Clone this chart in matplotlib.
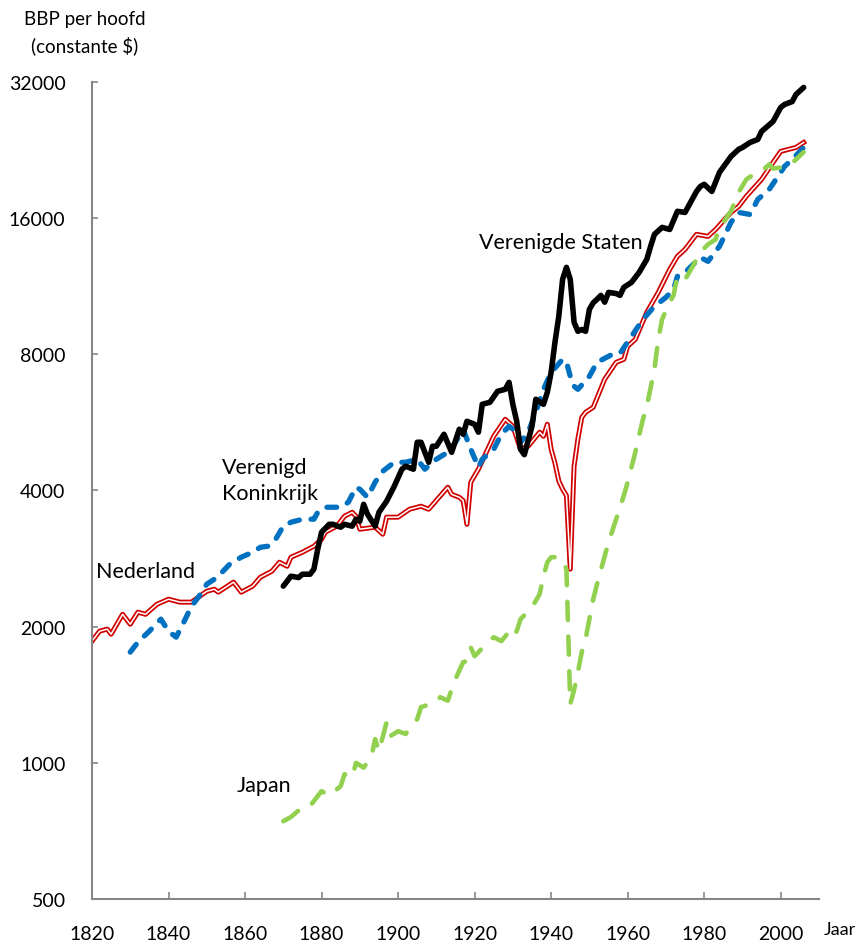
import matplotlib
matplotlib.use('Agg')
import matplotlib.pyplot as plt

plt.rcParams['font.family'] = ['Lato', 'DejaVu Sans']
plt.rcParams['lines.scale_dashes'] = False

# BBP per hoofd (constante $)
nl_jaar = [1820, 1822, 1824, 1825, 1828, 1830, 1832, 1834, 1837, 1840, 1843, 1846, 1850, 1852, 1853,
           1857, 1859, 1862, 1864, 1867, 1869, 1871, 1872, 1875, 1878, 1880, 1881, 1884, 1886, 1888,
           1889, 1890, 1894, 1896, 1897, 1900, 1903, 1906, 1908, 1913, 1914, 1916, 1917, 1918, 1919,
           1921, 1925, 1928, 1930, 1932, 1934, 1937, 1938, 1939, 1940, 1941, 1942, 1943, 1944, 1945,
           1946, 1947, 1948, 1949, 1951, 1954, 1957, 1959, 1960, 1962, 1965, 1968, 1971, 1973, 1975,
           1978, 1981, 1983, 1987, 1989, 1991, 1995, 1998, 2000, 2002, 2004, 2006]
nl_bbp = [1858, 1955, 1975, 1925, 2130, 2025, 2153, 2130, 2242, 2300, 2266, 2266, 2395, 2420, 2384,
          2509, 2384, 2458, 2572, 2652, 2776, 2720, 2848, 2922, 3012, 3121, 3235, 3336, 3509, 3580,
          3509, 3285, 3318, 3202, 3492, 3492, 3636, 3692, 3636, 4067, 3923, 3864, 3800, 3368, 4172,
          4458, 5272, 5748, 5547, 4935, 5011, 5382, 5272, 5603, 4935, 4600, 4200, 4026, 3900, 2680,
          4525, 5200, 5800, 5955, 6109, 7047, 7681, 7798, 8334, 8633, 9905, 10966, 12330, 13171, 13649,
          14734, 14580, 15105, 16474, 16985, 17875, 19485, 21245, 22470, 22705, 22930, 23520]

uk_jaar = [1830, 1832, 1835, 1838, 1840, 1842, 1844, 1846, 1848, 1850, 1852, 1854, 1856, 1859, 1862,
           1864, 1866, 1868, 1870, 1872, 1875, 1878, 1879, 1881, 1885, 1887, 1889, 1890, 1892, 1894,
           1896, 1899, 1902, 1905, 1907, 1910, 1913, 1915, 1917, 1919, 1921, 1922, 1925, 1927, 1929,
           1931, 1932, 1934, 1936, 1938, 1940, 1943, 1944, 1945, 1946, 1947, 1950, 1952, 1956, 1958,
           1961, 1964, 1967, 1970, 1972, 1973, 1975, 1979, 1981, 1984, 1987, 1989, 1992, 1994, 1997,
           2000, 2001, 2003, 2006]
uk_bbp = [1757, 1848, 1955, 2078, 1955, 1896, 2047, 2219, 2336, 2483, 2547, 2639, 2749, 2848, 2922,
          2996, 3012, 3121, 3336, 3403, 3456, 3456, 3580, 3673, 3673, 3768, 4067, 4026, 3864, 4172,
          4412, 4618, 4618, 4690, 4458, 4690, 4859, 5113, 5464, 4935, 4502, 4690, 4935, 5326, 5547,
          5382, 5113, 5382, 5955, 6695, 7300, 7798, 7700, 7154, 6800, 6695, 7154, 7681, 8000, 8040,
          8766, 9559, 10212, 10690, 11136, 11896, 12140, 13100, 12840, 13860, 15659, 16474, 16300, 17600, 18520,
          20200, 20820, 21570, 22930]

vs_jaar = [1870, 1871, 1872, 1874, 1875, 1877, 1878, 1879, 1880, 1882, 1883, 1885, 1886, 1888, 1889,
           1890, 1891, 1892, 1894, 1895, 1897, 1899, 1901, 1902, 1904, 1905, 1906, 1908, 1909, 1910,
           1912, 1914, 1916, 1917, 1918, 1920, 1921, 1922, 1924, 1926, 1928, 1929, 1930, 1931, 1932,
           1933, 1935, 1936, 1938, 1939, 1940, 1941, 1942, 1943, 1944, 1945, 1946, 1947, 1948, 1949,
           1950, 1951, 1952, 1953, 1954, 1955, 1957, 1958, 1959, 1961, 1963, 1965, 1966, 1967, 1969,
           1971, 1973, 1975, 1978, 1979, 1980, 1982, 1984, 1987, 1989, 1990, 1992, 1994, 1995, 1998,
           2000, 2001, 2003, 2004, 2006]
vs_bbp = [2458, 2521, 2586, 2568, 2612, 2612, 2680, 2967, 3235, 3368, 3368, 3318, 3368, 3336, 3456,
          3420, 3729, 3545, 3336, 3580, 3787, 4087, 4458, 4525, 4458, 5113, 5113, 4618, 5011, 5011,
          5326, 4859, 5464, 5326, 5690, 5603, 5382, 6204, 6267, 6627, 6695, 6936, 6200, 5690, 4935,
          4800, 5547, 6364, 6204, 6594, 7300, 8500, 9706, 11715, 12455, 11715, 9415, 8994, 9080, 8994,
          10058, 10400, 10584, 10800, 10430, 10966, 10900, 10800, 11250, 11538, 12140, 12970, 13860, 14734, 15265,
          15105, 16564, 16474, 18330, 18800, 19010, 18330, 20200, 21900, 22705, 22930, 23520, 23880, 24880, 26170,
          28100, 28540, 28960, 30030, 31120]

jp_jaar = [1870, 1872, 1875, 1877, 1880, 1882, 1885, 1886, 1888, 1889, 1891, 1893, 1894, 1895, 1897,
           1898, 1900, 1902, 1903, 1905, 1906, 1910, 1911, 1913, 1914, 1915, 1917, 1918, 1919, 1920,
           1923, 1925, 1927, 1929, 1930, 1931, 1932, 1935, 1937, 1938, 1939, 1940, 1942, 1943, 1944,
           1945, 1946, 1947, 1948, 1949, 1950, 1951, 1952, 1955, 1957, 1959, 1960, 1962, 1963, 1964,
           1965, 1967, 1968, 1969, 1971, 1972, 1973, 1975, 1977, 1979, 1981, 1983, 1984, 1985, 1987,
           1989, 1991, 1993, 1995, 1997, 1998, 2000, 2002, 2004, 2006]
jp_bbp = [743, 759, 798, 803, 866, 846, 888, 944, 929, 1000, 976, 1030, 1128, 1061, 1230,
          1146, 1175, 1158, 1200, 1249, 1328, 1362, 1397, 1372, 1455, 1531, 1669, 1680, 1800, 1721,
          1830, 1896, 1858, 1950, 1900, 1955, 2078, 2208, 2360, 2586, 2776, 2848, 2848, 2800, 2680,
          1348, 1450, 1587, 1757, 1877, 2078, 2300, 2483, 3074, 3456, 3900, 4172, 4859, 5300, 5748,
          6140, 7413, 8633, 9559, 10424, 10800, 11896, 11700, 12520, 13440, 14000, 14360, 15340, 15659, 16564,
          18240, 19485, 20000, 20300, 21030, 20600, 20700, 20820, 21570, 22400]

y_ticks = [500, 1000, 2000, 4000, 8000, 16000, 32000]
x_ticks = list(range(1820, 2001, 20))

fig = plt.figure(figsize=(8.58, 9.45), dpi=100)
ax = fig.add_axes([0.1072, 0.0476, 0.8473, 0.8646])

# Nederland: rode lijn met witte kern
ax.plot(nl_jaar, nl_bbp, color='#D00000', lw=3.6, solid_joinstyle='round', zorder=2)
ax.plot(nl_jaar, nl_bbp, color='white', lw=1.1, solid_joinstyle='round', zorder=2.1)
ax.plot(uk_jaar, uk_bbp, color='#0070C0', lw=3.8, linestyle=(0, (7, 8.5)),
        dash_capstyle='round', zorder=3)
ax.plot(jp_jaar, jp_bbp, color='#92D050', lw=3.3, linestyle=(0, (13, 12)),
        dash_capstyle='round', zorder=4)
ax.plot(vs_jaar, vs_bbp, color='black', lw=4.0, solid_joinstyle='round',
        solid_capstyle='round', zorder=5)

ax.set_yscale('log', base=2)
ax.set_ylim(500, 32000)
ax.set_xlim(1820, 2010)
ax.set_yticks(y_ticks)
ax.set_yticklabels([str(t) for t in y_ticks])
ax.minorticks_off()
ax.set_xticks(x_ticks)
ax.set_xticklabels([str(t) for t in x_ticks])

for s in ['top', 'right']:
    ax.spines[s].set_visible(False)
for s in ['left', 'bottom']:
    ax.spines[s].set_color('#868686')
    ax.spines[s].set_linewidth(1.5)
ax.tick_params(axis='y', direction='in', length=4, width=1.2, color='#868686',
               labelsize=14, pad=19)
ax.tick_params(axis='x', direction='in', length=5, width=1.2, color='#868686',
               labelsize=14, pad=19)

ax.text(1942.5, 14140, 'Verenigde Staten', fontsize=15.5, ha='center', va='center')
ax.text(1854, 4214, 'Verenigd\nKoninkrijk', fontsize=15.5, ha='left', va='center',
        linespacing=1.35)
ax.text(1821, 2652, 'Nederland', fontsize=15.5, ha='left', va='center')
ax.text(1857.9, 893, 'Japan', fontsize=15.5, ha='left', va='center')

fig.text(85 / 858, 1 - 33 / 945, 'BBP per hoofd\n(constante $)', fontsize=13.5,
         ha='center', va='center', linespacing=1.5)
fig.text(840 / 858, 1 - 930 / 945, 'Jaar', fontsize=13, ha='center', va='center')

fig.savefig('out.png', dpi=100)
